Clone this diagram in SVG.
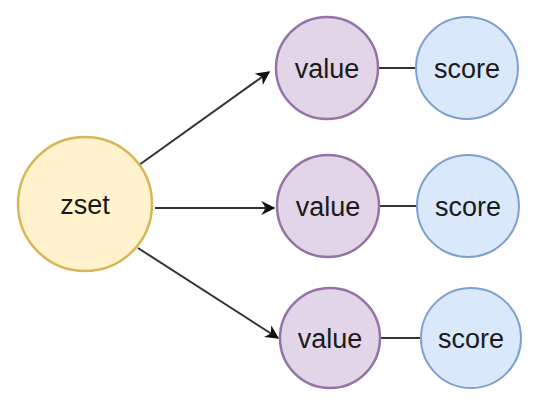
<svg xmlns="http://www.w3.org/2000/svg" width="560" height="406" viewBox="0 0 560 406">
<defs>
<style>
.zset{fill:#fff2cc;stroke:#d6b656;stroke-width:2.5}
.val{fill:#e1d5e7;stroke:#9673a6;stroke-width:2.5}
.sc{fill:#dae8fc;stroke:#7e9fd0;stroke-width:2}
.lbl{font-family:"Liberation Sans",Arial,sans-serif;font-size:27px;fill:#1a1a1a;text-anchor:middle}
.edge{stroke:#333;stroke-width:2;fill:none}
</style>
<marker id="arr" viewBox="0 0 10 10" refX="9" refY="5" markerWidth="14" markerHeight="14" markerUnits="userSpaceOnUse" orient="auto">
<path d="M0,0 L10,5 L0,10 L3,5 z" fill="#111"/>
</marker>
</defs>
<rect width="560" height="406" fill="#fff"/>
<g id="connectors">
<line class="edge" x1="139" y1="165" x2="269" y2="72" marker-end="url(#arr)"/>
<line class="edge" x1="155" y1="208" x2="274" y2="208" marker-end="url(#arr)"/>
<line class="edge" x1="138" y1="248" x2="278" y2="338" marker-end="url(#arr)"/>
<line class="edge" x1="378" y1="68" x2="416" y2="68"/>
<line class="edge" x1="379" y1="206" x2="417" y2="206"/>
<line class="edge" x1="381" y1="338" x2="420" y2="338"/>
</g>
<g id="zset"><circle class="zset" cx="85" cy="204" r="67"/><text class="lbl" x="85" y="214">zset</text></g>
<g id="value1"><circle class="val" cx="327" cy="68" r="51"/><text class="lbl" x="327" y="78">value</text></g>
<g id="score1"><circle class="sc" cx="467" cy="68" r="51"/><text class="lbl" x="467" y="78">score</text></g>
<g id="value2"><circle class="val" cx="328" cy="206" r="51"/><text class="lbl" x="328" y="216">value</text></g>
<g id="score2"><circle class="sc" cx="468" cy="206" r="51"/><text class="lbl" x="468" y="216">score</text></g>
<g id="value3"><circle class="val" cx="330" cy="338" r="50"/><text class="lbl" x="330" y="348">value</text></g>
<g id="score3"><circle class="sc" cx="471" cy="338" r="50"/><text class="lbl" x="471" y="348">score</text></g>
</svg>
